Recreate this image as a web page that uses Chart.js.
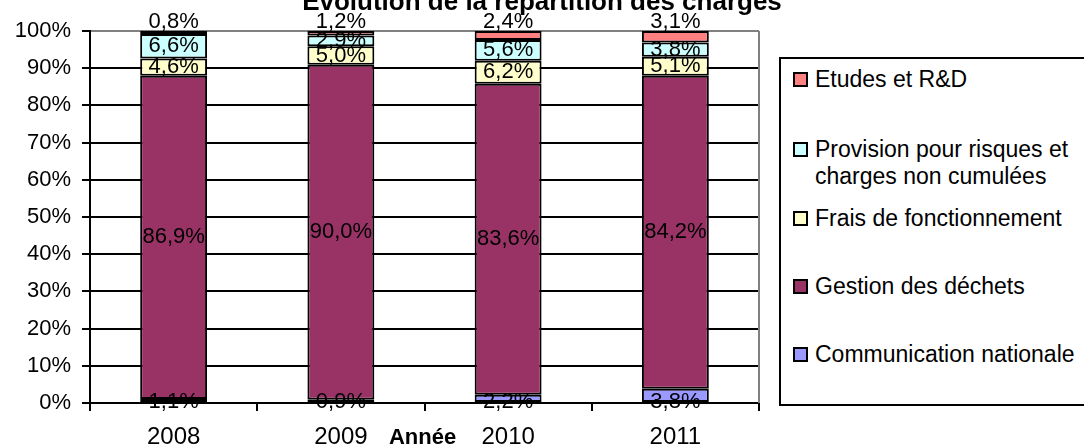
<!DOCTYPE html>
<html>
<head>
<meta charset="utf-8">
<script src="https://cdn.jsdelivr.net/npm/chart.js@4"></script>
<style>
  body { margin: 0; background: #fff; overflow: hidden; font-family: "Liberation Sans", Arial, sans-serif; }
  #wrap { position: relative; width: 1084px; height: 446px; overflow: hidden; }
  #legend { position: absolute; left: 779px; top: 57px; width: 330px; height: 349px;
            border: 2px solid #000; box-sizing: border-box; background: #fff; }
  .item { position: absolute; left: 12px; font-size: 23px; line-height: 27px; color: #000; white-space: nowrap; }
  .item .box { position: absolute; left: 0; top: 6px; width: 15px; height: 15px; border: 2px solid #000; box-sizing: border-box; }
  .item .txt { display: inline-block; margin-left: 22px; }
  .item .txt.wrap { white-space: normal; width: 258px; }
</style>
</head>
<body>
<div id="wrap">
  <canvas id="chart" width="1084" height="446"></canvas>
  <div id="legend"></div>
</div>
<script>
// data
const years = ['2008', '2009', '2010', '2011'];
const communication = [1.1, 0.9, 2.2, 3.8];
const gestion = [86.9, 90.0, 83.6, 84.2];
const frais = [4.6, 5.0, 6.2, 5.1];
const provision = [6.6, 2.9, 5.6, 3.8];
const etudes = [0.8, 1.2, 2.4, 3.1];

const chartTitle = 'Evolution de la répartition des charges';
const xTitle = 'Année';

// series from bottom to top
const series = [
    { label: 'Communication nationale', data: communication, color: '#9999FF' },
    { label: 'Gestion des déchets', data: gestion, color: '#993366' },
    { label: 'Frais de fonctionnement', data: frais, color: '#FFFFCC' },
    { label: 'Provision pour risques et charges non cumulées', data: provision, color: '#CCFFFF' },
    { label: 'Etudes et R&D', data: etudes, color: '#FF8080' }
];

function fmt(v) {
    return v.toFixed(1).replace('.', ',') + '%';
}

// labels inside segments + title + axis title
const extras = {
    id: 'extras',
    afterDatasetsDraw(chart) {
        const ctx = chart.ctx;
        const last = chart.data.datasets.length - 1;
        ctx.save();
        ctx.fillStyle = '#000';
        ctx.font = '22px "Liberation Sans", Arial, sans-serif';
        ctx.textAlign = 'center';
        ctx.textBaseline = 'middle';
        chart.data.datasets.forEach((ds, i) => {
            chart.getDatasetMeta(i).data.forEach((el, j) => {
                let y = (el.y + el.base) / 2;
                if (i === last) y = el.y - 9;
                if (i === 0) y = el.base;
                ctx.fillText(fmt(ds.data[j]), el.x, y);
            });
        });
        ctx.restore();
    },
    afterDraw(chart) {
        const ctx = chart.ctx;
        const a = chart.chartArea;
        ctx.save();
        // grey right border of the plot
        ctx.strokeStyle = '#808080';
        ctx.lineWidth = 2;
        ctx.beginPath();
        ctx.moveTo(a.right, a.top);
        ctx.lineTo(a.right, a.bottom);
        ctx.stroke();
        ctx.fillStyle = '#000';
        ctx.textAlign = 'center';
        ctx.font = 'bold 26px "Liberation Sans", Arial, sans-serif';
        ctx.textBaseline = 'alphabetic';
        ctx.fillText(chartTitle, 542, 10);
        ctx.font = 'bold 22px "Liberation Sans", Arial, sans-serif';
        ctx.textBaseline = 'middle';
        ctx.fillText(xTitle, (a.left + a.right) / 2 - 2, 438);
        ctx.restore();
    }
};

const chart = new Chart(document.getElementById('chart'), {
    type: 'bar',
    data: {
        labels: years,
        datasets: series.map(s => ({
            label: s.label,
            data: s.data,
            backgroundColor: s.color,
            borderColor: '#000',
            borderWidth: 2,
            borderSkipped: false,
            categoryPercentage: 1,
            barPercentage: 0.4
        }))
    },
    options: {
        responsive: false,
        animation: false,
        devicePixelRatio: 1,
        layout: { padding: { top: 31, right: 325, left: 0, bottom: 0 } },
        plugins: {
            legend: { display: false },
            title: { display: false },
            tooltip: { enabled: false }
        },
        scales: {
            x: {
                stacked: true,
                offset: true,
                afterFit: s => { s.height = 43; },
                grid: {
                    offset: true,
                    drawOnChartArea: false,
                    drawTicks: true,
                    tickLength: 8,
                    color: '#000',
                    lineWidth: 2
                },
                border: { color: '#000', width: 2 },
                ticks: {
                    color: '#000',
                    padding: 12,
                    font: { family: '"Liberation Sans", Arial, sans-serif', size: 24 }
                }
            },
            y: {
                stacked: true,
                min: 0,
                max: 100,
                afterFit: s => { s.width = 90; },
                grid: {
                    color: c => (c.tick && c.tick.value === 100) ? '#808080' : '#000',
                    tickColor: '#000',
                    lineWidth: 2,
                    tickLength: 8
                },
                border: { color: '#000', width: 2 },
                ticks: {
                    stepSize: 10,
                    color: '#000',
                    padding: 11,
                    font: { family: '"Liberation Sans", Arial, sans-serif', size: 22 },
                    callback: v => v + '%'
                }
            }
        }
    },
    plugins: [extras]
});

// legend (top item first, as in the reference)
const legendTops = [7, 77, 146, 214, 282];
const legend = document.getElementById('legend');
series.slice().reverse().forEach((s, i) => {
    const item = document.createElement('div');
    item.className = 'item';
    item.style.top = legendTops[i] + 'px';
    const box = document.createElement('span');
    box.className = 'box';
    box.style.background = s.color;
    const txt = document.createElement('span');
    txt.className = 'txt' + (s.label.length > 30 ? ' wrap' : '');
    txt.textContent = s.label;
    item.appendChild(box);
    item.appendChild(txt);
    legend.appendChild(item);
});
</script>
</body>
</html>
